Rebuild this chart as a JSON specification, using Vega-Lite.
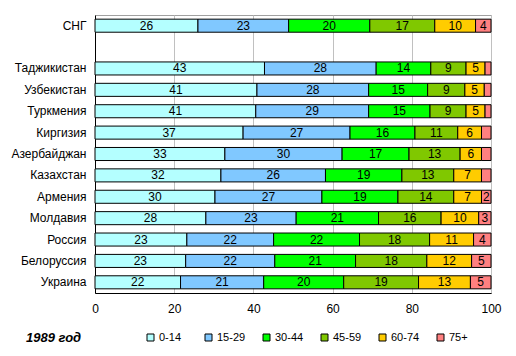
{
  "$schema": "https://vega.github.io/schema/vega-lite/v6.json",
  "autosize": "none",
  "width": 396,
  "height": 278,
  "padding": {"left": 95, "top": 15, "right": 25, "bottom": 63},
  "background": "white",
  "config": {
    "font": "Liberation Sans",
    "view": {"stroke": "#A0A0A0", "strokeWidth": 1},
    "axis": {"labelFont": "Liberation Sans", "labelColor": "black"}
  },
  "data": {
    "values": [
      {"country": "СНГ", "age": "0-14", "value": 26.0, "label": "26"},
      {"country": "СНГ", "age": "15-29", "value": 22.9, "label": "23"},
      {"country": "СНГ", "age": "30-44", "value": 20.5, "label": "20"},
      {"country": "СНГ", "age": "45-59", "value": 16.4, "label": "17"},
      {"country": "СНГ", "age": "60-74", "value": 10.3, "label": "10"},
      {"country": "СНГ", "age": "75+", "value": 3.9, "label": "4"},
      {"country": "Таджикистан", "age": "0-14", "value": 42.8, "label": "43"},
      {"country": "Таджикистан", "age": "15-29", "value": 28.2, "label": "28"},
      {"country": "Таджикистан", "age": "30-44", "value": 13.8, "label": "14"},
      {"country": "Таджикистан", "age": "45-59", "value": 8.9, "label": "9"},
      {"country": "Таджикистан", "age": "60-74", "value": 4.8, "label": "5"},
      {"country": "Таджикистан", "age": "75+", "value": 1.5, "label": ""},
      {"country": "Узбекистан", "age": "0-14", "value": 40.9, "label": "41"},
      {"country": "Узбекистан", "age": "15-29", "value": 28.2, "label": "28"},
      {"country": "Узбекистан", "age": "30-44", "value": 14.9, "label": "15"},
      {"country": "Узбекистан", "age": "45-59", "value": 9.4, "label": "9"},
      {"country": "Узбекистан", "age": "60-74", "value": 4.9, "label": "5"},
      {"country": "Узбекистан", "age": "75+", "value": 1.7, "label": ""},
      {"country": "Туркмения", "age": "0-14", "value": 40.6, "label": "41"},
      {"country": "Туркмения", "age": "15-29", "value": 28.5, "label": "29"},
      {"country": "Туркмения", "age": "30-44", "value": 15.5, "label": "15"},
      {"country": "Туркмения", "age": "45-59", "value": 9.1, "label": "9"},
      {"country": "Туркмения", "age": "60-74", "value": 4.8, "label": "5"},
      {"country": "Туркмения", "age": "75+", "value": 1.5, "label": ""},
      {"country": "Киргизия", "age": "0-14", "value": 37.4, "label": "37"},
      {"country": "Киргизия", "age": "15-29", "value": 27.0, "label": "27"},
      {"country": "Киргизия", "age": "30-44", "value": 16.4, "label": "16"},
      {"country": "Киргизия", "age": "45-59", "value": 10.8, "label": "11"},
      {"country": "Киргизия", "age": "60-74", "value": 6.0, "label": "6"},
      {"country": "Киргизия", "age": "75+", "value": 2.4, "label": ""},
      {"country": "Азербайджан", "age": "0-14", "value": 32.8, "label": "33"},
      {"country": "Азербайджан", "age": "15-29", "value": 29.6, "label": "30"},
      {"country": "Азербайджан", "age": "30-44", "value": 16.9, "label": "17"},
      {"country": "Азербайджан", "age": "45-59", "value": 12.9, "label": "13"},
      {"country": "Азербайджан", "age": "60-74", "value": 5.4, "label": "6"},
      {"country": "Азербайджан", "age": "75+", "value": 2.4, "label": ""},
      {"country": "Казахстан", "age": "0-14", "value": 31.8, "label": "32"},
      {"country": "Казахстан", "age": "15-29", "value": 26.4, "label": "26"},
      {"country": "Казахстан", "age": "30-44", "value": 19.3, "label": "19"},
      {"country": "Казахстан", "age": "45-59", "value": 13.1, "label": "13"},
      {"country": "Казахстан", "age": "60-74", "value": 7.0, "label": "7"},
      {"country": "Казахстан", "age": "75+", "value": 2.4, "label": ""},
      {"country": "Армения", "age": "0-14", "value": 30.3, "label": "30"},
      {"country": "Армения", "age": "15-29", "value": 27.0, "label": "27"},
      {"country": "Армения", "age": "30-44", "value": 19.2, "label": "19"},
      {"country": "Армения", "age": "45-59", "value": 14.1, "label": "14"},
      {"country": "Армения", "age": "60-74", "value": 7.0, "label": "7"},
      {"country": "Армения", "age": "75+", "value": 2.4, "label": "2"},
      {"country": "Молдавия", "age": "0-14", "value": 28.0, "label": "28"},
      {"country": "Молдавия", "age": "15-29", "value": 22.8, "label": "23"},
      {"country": "Молдавия", "age": "30-44", "value": 20.8, "label": "21"},
      {"country": "Молдавия", "age": "45-59", "value": 15.8, "label": "16"},
      {"country": "Молдавия", "age": "60-74", "value": 9.5, "label": "10"},
      {"country": "Молдавия", "age": "75+", "value": 3.1, "label": "3"},
      {"country": "Россия", "age": "0-14", "value": 23.2, "label": "23"},
      {"country": "Россия", "age": "15-29", "value": 21.9, "label": "22"},
      {"country": "Россия", "age": "30-44", "value": 21.7, "label": "22"},
      {"country": "Россия", "age": "45-59", "value": 17.7, "label": "18"},
      {"country": "Россия", "age": "60-74", "value": 11.1, "label": "11"},
      {"country": "Россия", "age": "75+", "value": 4.4, "label": "4"},
      {"country": "Белоруссия", "age": "0-14", "value": 22.9, "label": "23"},
      {"country": "Белоруссия", "age": "15-29", "value": 22.5, "label": "22"},
      {"country": "Белоруссия", "age": "30-44", "value": 20.4, "label": "21"},
      {"country": "Белоруссия", "age": "45-59", "value": 18.0, "label": "18"},
      {"country": "Белоруссия", "age": "60-74", "value": 11.3, "label": "12"},
      {"country": "Белоруссия", "age": "75+", "value": 4.9, "label": "5"},
      {"country": "Украина", "age": "0-14", "value": 21.6, "label": "22"},
      {"country": "Украина", "age": "15-29", "value": 21.0, "label": "21"},
      {"country": "Украина", "age": "30-44", "value": 20.2, "label": "20"},
      {"country": "Украина", "age": "45-59", "value": 18.9, "label": "19"},
      {"country": "Украина", "age": "60-74", "value": 13.1, "label": "13"},
      {"country": "Украина", "age": "75+", "value": 5.2, "label": "5"}
    ]
  },
  "encoding": {
    "y": {
      "field": "country",
      "type": "nominal",
      "scale": {
        "domain": ["СНГ", " ", "Таджикистан", "Узбекистан", "Туркмения", "Киргизия", "Азербайджан", "Казахстан", "Армения", "Молдавия", "Россия", "Белоруссия", "Украина"],
        "paddingInner": 0.39,
        "paddingOuter": 0.195
      },
      "axis": {
        "title": null,
        "ticks": false,
        "domainColor": "black",
        "labelFontSize": 12,
        "labelPadding": 9
      }
    },
    "x": {
      "field": "value",
      "type": "quantitative",
      "stack": "zero",
      "scale": {"domain": [0, 100], "nice": false},
      "axis": {
        "title": null,
        "values": [0, 20, 40, 60, 80, 100],
        "ticks": false,
        "domainColor": "black",
        "gridColor": "#C0C0C0",
        "gridOpacity": 1,
        "labelFontSize": 12,
        "labelPadding": 10,
        "labelFlush": false
      }
    },
    "order": {"field": "age", "type": "nominal"}
  },
  "layer": [
    {
      "mark": {"type": "bar", "stroke": "black", "strokeWidth": 1},
      "encoding": {
        "color": {
          "field": "age",
          "type": "nominal",
          "scale": {
            "domain": ["0-14", "15-29", "30-44", "45-59", "60-74", "75+"],
            "range": ["#B4FFFF", "#80C8FF", "#00FF00", "#80C800", "#FFCC00", "#FF8080"]
          },
          "legend": {
            "title": "1989 год",
            "orient": "none",
            "legendX": -69,
            "legendY": 317,
            "direction": "horizontal",
            "titleOrient": "left",
            "titleFontSize": 13,
            "titleFontWeight": "bold",
            "titleFontStyle": "italic",
            "titleColor": "black",
            "titlePadding": 63,
            "titleBaseline": "middle",
            "symbolType": "square",
            "symbolSize": 49,
            "symbolStrokeColor": "black",
            "symbolStrokeWidth": 1,
            "symbolOpacity": 1,
            "labelFontSize": 11,
            "labelColor": "black",
            "labelOffset": 3,
            "columnPadding": 15,
            "gridAlign": "all"
          }
        }
      }
    },
    {
      "mark": {"type": "text", "fontSize": 12, "color": "black", "baseline": "middle"},
      "encoding": {
        "x": {"field": "value", "type": "quantitative", "stack": "zero", "bandPosition": 0.5},
        "text": {"field": "label", "type": "nominal"},
        "detail": {"field": "age", "type": "nominal"}
      }
    }
  ]
}
